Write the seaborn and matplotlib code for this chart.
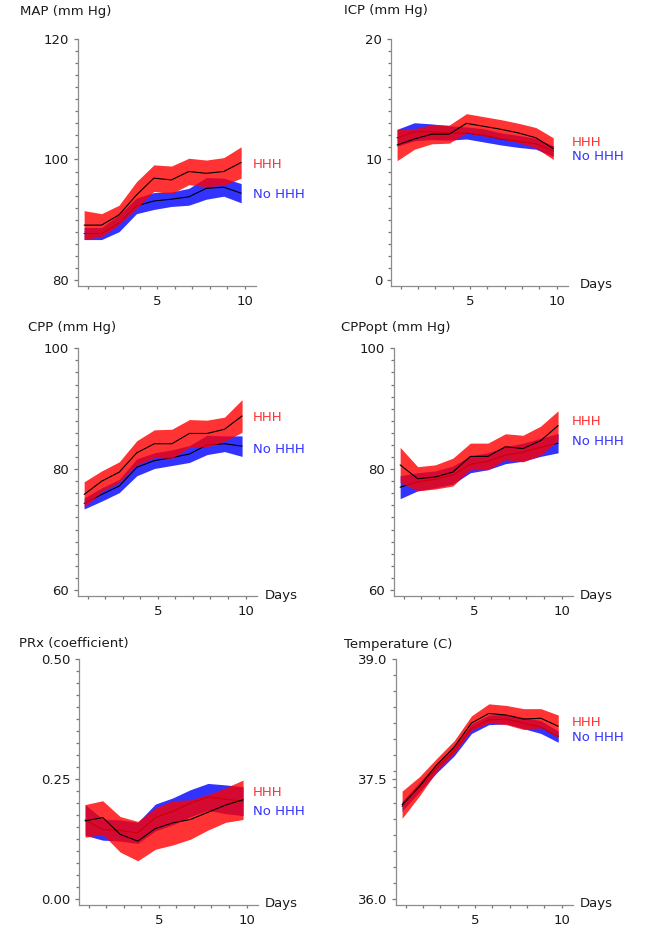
import numpy as np
import pandas as pd
import matplotlib
matplotlib.use("Agg")
import matplotlib.pyplot as plt
import seaborn as sns

sns.set_style("ticks")
plt.rcParams["font.family"] = ["DejaVu Sans"]

days = list(range(1, 11))

# MAP (mm Hg)
map_hhh = [89.1, 89.1, 90.8, 94.1, 96.9, 96.6, 98.0, 97.7, 98.0, 99.5]
map_hhh_err = [2.4, 1.9, 1.6, 2.2, 2.2, 2.3, 2.2, 2.2, 2.3, 2.6]
map_no = [87.7, 87.7, 89.4, 92.3, 93.1, 93.4, 93.8, 95.2, 95.4, 94.4]
map_no_err = [1.0, 1.0, 1.4, 1.3, 1.4, 1.2, 1.4, 1.8, 1.5, 1.6]

# ICP (mm Hg)
icp_hhh = [11.2, 11.7, 12.1, 12.1, 13.0, 12.75, 12.5, 12.2, 11.8, 10.9]
icp_hhh_err = [1.3, 0.85, 0.8, 0.75, 0.8, 0.8, 0.8, 0.8, 0.85, 0.9]
icp_no = [11.8, 12.3, 12.3, 12.2, 12.2, 12.0, 11.7, 11.5, 11.3, 10.7]
icp_no_err = [0.7, 0.75, 0.65, 0.6, 0.5, 0.55, 0.5, 0.5, 0.45, 0.45]

# CPP (mm Hg)
cpp_hhh = [75.8, 78.0, 79.5, 82.7, 84.2, 84.2, 85.9, 85.9, 86.6, 88.8]
cpp_hhh_err = [2.1, 1.7, 1.7, 2.0, 2.3, 2.4, 2.3, 2.2, 2.0, 2.7]
cpp_no = [74.3, 75.8, 77.2, 80.3, 81.4, 81.9, 82.5, 84.0, 84.2, 83.8]
cpp_no_err = [0.9, 1.1, 1.1, 1.4, 1.3, 1.3, 1.4, 1.6, 1.3, 1.7]

# CPPopt (mm Hg)
cppopt_hhh = [80.7, 78.4, 78.7, 79.5, 82.1, 82.1, 83.7, 83.4, 84.7, 87.2]
cppopt_hhh_err = [2.9, 2.0, 2.0, 2.3, 2.2, 2.2, 2.15, 2.2, 2.4, 2.45]
cppopt_no = [77.0, 77.9, 78.3, 79.0, 80.8, 81.3, 82.3, 82.8, 83.6, 84.3]
cppopt_no_err = [1.9, 1.5, 1.4, 1.5, 1.4, 1.4, 1.4, 1.5, 1.5, 1.6]

# PRx (coefficient)
prx_hhh = [0.163, 0.170, 0.135, 0.121, 0.147, 0.159, 0.166, 0.181, 0.196, 0.207]
prx_hhh_err = [0.034, 0.035, 0.037, 0.041, 0.043, 0.046, 0.041, 0.037, 0.036, 0.041]
prx_no = [0.165, 0.145, 0.143, 0.138, 0.170, 0.183, 0.200, 0.213, 0.208, 0.204]
prx_no_err = [0.032, 0.022, 0.022, 0.022, 0.028, 0.028, 0.028, 0.028, 0.030, 0.030]

# Temperature (C)
temp_hhh = [37.18, 37.41, 37.68, 37.90, 38.20, 38.32, 38.30, 38.25, 38.26, 38.16]
temp_hhh_err = [0.17, 0.12, 0.08, 0.08, 0.09, 0.12, 0.12, 0.13, 0.12, 0.14]
temp_no = [37.16, 37.40, 37.64, 37.85, 38.13, 38.24, 38.25, 38.20, 38.15, 38.03]
temp_no_err = [0.06, 0.06, 0.06, 0.06, 0.06, 0.06, 0.06, 0.07, 0.08, 0.07]

W, H = 652, 944
RED = "#ff0000"
BLUE = "#0000ff"
SPINE = "#8c8c8c"
FS = 9.5
X_SHIFT = -0.2


def px(x, y):
    return x / W, 1 - y / H


# title, data, (lo, hi, minor step), fmt, axes rect px (x0, x1, ytop, ybottom), title pos, days pos, label x, label ys
panels = [
    ("MAP (mm Hg)", (map_hhh, map_hhh_err, map_no, map_no_err), (80, 120, 2), "{:.0f}",
     (78, 256, 39, 285.7), (20, 11), None, 252.7, (164, 195)),
    ("ICP (mm Hg)", (icp_hhh, icp_hhh_err, icp_no, icp_no_err), (0, 20, 1), "{:.0f}",
     (391, 568, 39, 285.7), (344, 10.5), (580, 285), 571.7, (142.7, 156.7)),
    ("CPP (mm Hg)", (cpp_hhh, cpp_hhh_err, cpp_no, cpp_no_err), (60, 100, 2), "{:.0f}",
     (78, 257, 348.3, 595.7), (28, 327), (265, 595), 252.7, (417.3, 449.3)),
    ("CPPopt (mm Hg)", (cppopt_hhh, cppopt_hhh_err, cppopt_no, cppopt_no_err), (60, 100, 2), "{:.0f}",
     (394, 573, 348.3, 595.7), (341, 327.5), (580, 595), 571.7, (421.7, 441.7)),
    ("PRx (coefficient)", (prx_hhh, prx_hhh_err, prx_no, prx_no_err), (0.0, 0.5, 0.025), "{:.2f}",
     (79, 258, 659, 905), (19, 644), (265, 904), 252.7, (792.7, 811.7)),
    ("Temperature (C)", (temp_hhh, temp_hhh_err, temp_no, temp_no_err), (36.0, 39.0, 0.2), "{:.1f}",
     (396, 573, 659, 905), (344, 644.5), (580, 904), 571.7, (722.3, 737.3)),
]

fig = plt.figure(figsize=(W / 100, H / 100), dpi=100)

for title, data, (lo, hi, step), fmt, rect, tpos, dpos, lx, lys in panels:
    x0, x1, yt, yb = rect
    ax = fig.add_axes([x0 / W, 1 - yb / H, (x1 - x0) / W, (yb - yt) / H])
    hhh, hhh_err, no, no_err = data

    df = pd.DataFrame({
        "day": days * 2,
        "value": hhh + no,
        "group": ["HHH"] * len(days) + ["No HHH"] * len(days),
    })
    df["x"] = df["day"] + X_SHIFT
    x = np.array(days) + X_SHIFT

    # blue band + its mean first, red on top
    for grp, mean, err, col, z in [("No HHH", no, no_err, BLUE, 1), ("HHH", hhh, hhh_err, RED, 3)]:
        m = np.array(mean)
        e = np.array(err)
        ax.fill_between(x, m - e, m + e, color=col, alpha=0.8, lw=0, zorder=z)
        sns.lineplot(data=df[df["group"] == grp], x="x", y="value", color="black",
                     lw=0.8, errorbar=None, ax=ax, zorder=z + 1)

    ax.set_xlabel("")
    ax.set_ylabel("")
    ax.set_xlim(0.45, 10.65)
    rng = hi - lo
    ax.set_ylim(lo - 0.024 * rng, hi)

    ax.set_xticks([5, 10])
    ax.set_xticklabels(["5", "10"])
    ax.set_xticks(days, minor=True)
    mid = (lo + hi) / 2
    ax.set_yticks([lo, mid, hi])
    ax.set_yticklabels([fmt.format(v) for v in (lo, mid, hi)])
    ax.set_yticks(np.arange(lo, hi + step / 2, step), minor=True)

    sns.despine(ax=ax)
    for s in ("left", "bottom"):
        ax.spines[s].set_color(SPINE)
        ax.spines[s].set_linewidth(0.9)
    ax.tick_params(axis="both", which="both", direction="out", color="#777777", width=0.9,
                   left=True, bottom=True, labelsize=FS, labelcolor="#1a1a1a")
    ax.tick_params(axis="y", which="major", length=2.8, pad=3.5)
    ax.tick_params(axis="y", which="minor", length=2.0)
    ax.tick_params(axis="x", which="major", length=2.0, pad=4.5)
    ax.tick_params(axis="x", which="minor", length=2.0)

    fig.text(*px(*tpos), title, fontsize=FS, ha="left", va="center", color="#1a1a1a")
    if dpos is not None:
        fig.text(*px(*dpos), "Days", fontsize=FS, ha="left", va="center", color="#1a1a1a")
    fig.text(*px(lx, lys[0]), "HHH", fontsize=FS, ha="left", va="center", color="#ff3333")
    fig.text(*px(lx, lys[1]), "No HHH", fontsize=FS, ha="left", va="center", color="#3333ff")

fig.savefig("out.png", dpi=100)
